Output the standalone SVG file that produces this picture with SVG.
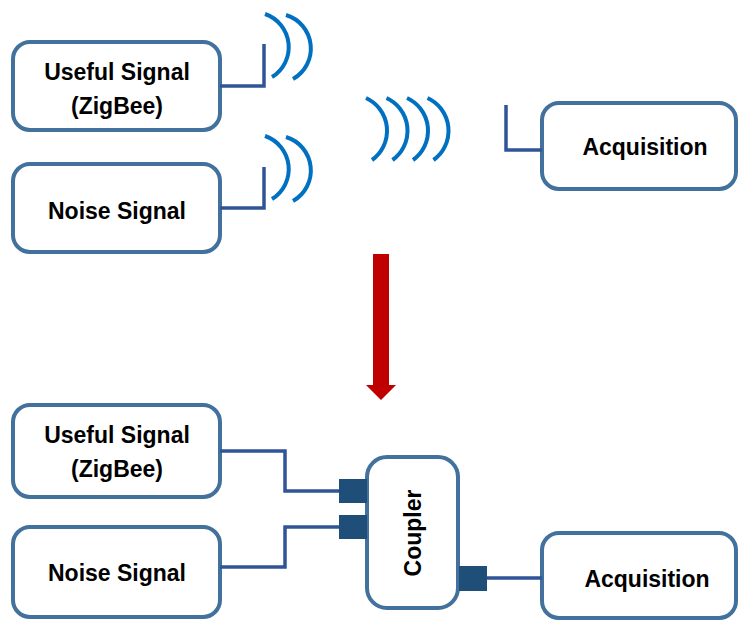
<svg xmlns="http://www.w3.org/2000/svg" width="740" height="620" viewBox="0 0 740 620">
  <style>
    .box { fill: #ffffff; stroke: #41719C; stroke-width: 4; }
    .lbl { font-family: "Liberation Sans", Arial, sans-serif; font-weight: bold; font-size: 23px; fill: #000000; text-anchor: middle; }
    .wire { fill: none; stroke: #2F5597; stroke-width: 3.5; }
    .wave { fill: none; stroke: #0070C0; stroke-width: 4; }
    .port { fill: #1F4E79; }
  </style>
  <rect width="740" height="620" fill="#ffffff"/>

  <!-- wireless setup -->
  <g id="useful-signal-top">
    <rect class="box" x="13" y="42" width="207" height="88" rx="17"/>
    <text class="lbl" x="117" y="80">Useful Signal</text>
    <text class="lbl" x="117" y="114">(ZigBee)</text>
  </g>
  <g id="noise-signal-top">
    <rect class="box" x="13" y="164" width="207" height="88" rx="17"/>
    <text class="lbl" x="117" y="219">Noise Signal</text>
  </g>
  <g id="acquisition-top">
    <rect class="box" x="542" y="103" width="194" height="86" rx="17"/>
    <text class="lbl" x="645" y="155">Acquisition</text>
  </g>

  <g id="connectors-top">
    <path class="wire" d="M220 86 H264 V44"/>
    <path class="wire" d="M220 208 H264 V167"/>
    <path class="wire" d="M542 150 H506 V105"/>
  </g>

  <g id="waves">
    <path class="wave" d="M265 14 A35 35 0 0 1 272 77"/>
    <path class="wave" d="M286 15 A35 35 0 0 1 293 79"/>
    <path class="wave" d="M265 136 A35 35 0 0 1 272 199"/>
    <path class="wave" d="M286 137 A35 35 0 0 1 293 201"/>
    <path class="wave" d="M366 98 A36 36 0 0 1 372 160"/>
    <path class="wave" d="M386.5 98 A36 36 0 0 1 392.5 160"/>
    <path class="wave" d="M407 98 A36 36 0 0 1 413 160"/>
    <path class="wave" d="M427.5 98 A36 36 0 0 1 433.5 160"/>
  </g>

  <!-- transition arrow -->
  <g id="arrow">
    <path d="M373 254 H389 V385 H396 L381 400 L366 385 H373 Z" fill="#C00000"/>
  </g>

  <!-- wired setup -->
  <g id="useful-signal-bottom">
    <rect class="box" x="13" y="405" width="207" height="92" rx="17"/>
    <text class="lbl" x="117" y="443">Useful Signal</text>
    <text class="lbl" x="117" y="477">(ZigBee)</text>
  </g>
  <g id="noise-signal-bottom">
    <rect class="box" x="13" y="527" width="207" height="90" rx="17"/>
    <text class="lbl" x="117" y="581">Noise Signal</text>
  </g>
  <g id="coupler">
    <rect class="box" x="367" y="457" width="91" height="151" rx="20"/>
    <text class="lbl" transform="translate(421 533) rotate(-90)">Coupler</text>
    <rect class="port" x="339" y="479" width="28" height="24"/>
    <rect class="port" x="339" y="515" width="28" height="24"/>
    <rect class="port" x="459" y="566" width="28" height="25"/>
  </g>
  <g id="acquisition-bottom">
    <rect class="box" x="542" y="533" width="194" height="85" rx="17"/>
    <text class="lbl" x="647" y="587">Acquisition</text>
  </g>

  <g id="connectors-bottom">
    <path class="wire" d="M220 451 H285 V491 H339"/>
    <path class="wire" d="M220 567 H285 V527 H339"/>
    <path class="wire" d="M487 578 H542"/>
  </g>
</svg>
